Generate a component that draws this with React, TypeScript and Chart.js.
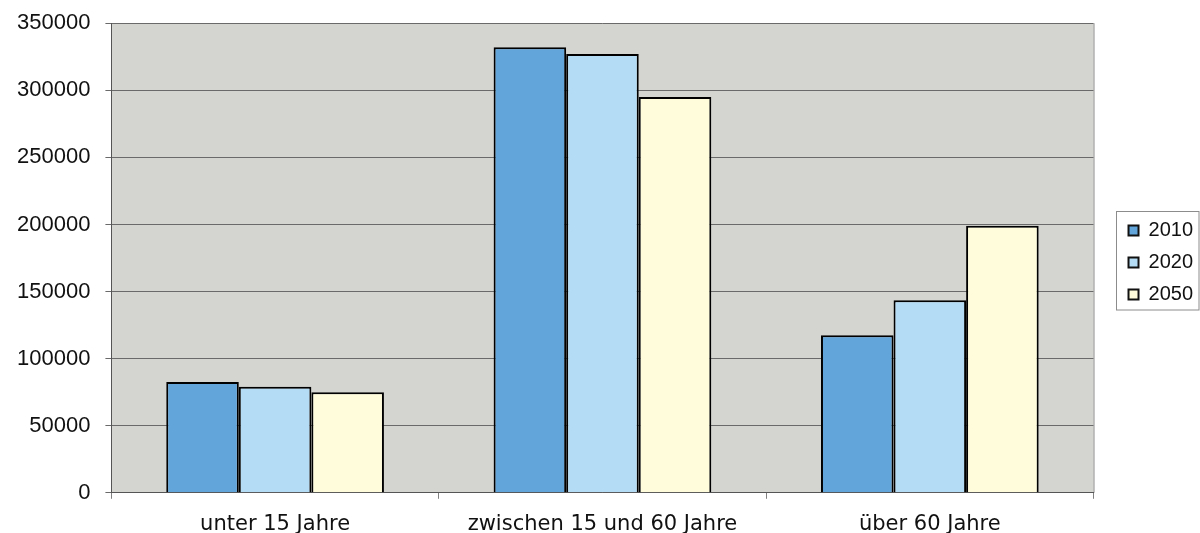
import React, { useEffect, useRef } from "react";
import { Chart, registerables } from "chart.js";

Chart.register(...registerables);

const categories = ["unter 15 Jahre", "zwischen 15 und 60 Jahre", "über 60 Jahre"];
const seriesNames = ["2010", "2020", "2050"];
const values2010 = [82500, 332000, 117500];
const values2020 = [79000, 327000, 143500];
const values2050 = [75000, 295000, 199000];
const seriesColors = ["#62a5da", "#b5dcf5", "#fffcdb"];
const yTicks = [0, 50000, 100000, 150000, 200000, 250000, 300000, 350000];

const LEGEND_SHIFT_X = 23;
const LEGEND_SHIFT_Y = -17;

const plotDeco = {
  id: "plotDeco",
  afterLayout(chart: any) {
    const lg = chart.legend;
    if (lg) {
      lg.left += LEGEND_SHIFT_X;
      lg.right += LEGEND_SHIFT_X;
      lg.top += LEGEND_SHIFT_Y;
      lg.bottom += LEGEND_SHIFT_Y;
    }
  },
  beforeDraw(chart: any) {
    const { ctx, chartArea } = chart;
    ctx.save();
    ctx.fillStyle = "#d4d4d1";
    ctx.fillRect(chartArea.left, chartArea.top, chartArea.right - chartArea.left, chartArea.bottom - chartArea.top);
    ctx.strokeStyle = "#8a8a8a";
    ctx.lineWidth = 1;
    ctx.beginPath();
    ctx.moveTo(chartArea.right + 0.5, chartArea.top);
    ctx.lineTo(chartArea.right + 0.5, chartArea.bottom);
    ctx.stroke();
    ctx.restore();
  },
  afterDraw(chart: any) {
    const lg = chart.legend;
    if (!lg) return;
    const { ctx } = chart;
    const items = lg.legendHitBoxes;
    if (!items || !items.length) return;
    const first = items[0];
    const last = items[items.length - 1];
    ctx.save();
    ctx.strokeStyle = "#8c8c8c";
    ctx.lineWidth = 1;
    const x = Math.round(first.left - 13) + 0.5;
    const y = Math.round(first.top - 10) + 0.5;
    ctx.strokeRect(x, y, 1199 - x, Math.round(last.top + last.height + 5) - y);
    ctx.restore();
  },
};

export default function App() {
  const ref = useRef<HTMLCanvasElement>(null);
  useEffect(() => {
    if (!ref.current) return;
    const data = [values2010, values2020, values2050];
    const chart = new Chart(ref.current, {
      type: "bar",
      data: {
        labels: categories,
        datasets: seriesNames.map((n, i) => ({
          label: n,
          data: data[i],
          backgroundColor: seriesColors[i],
          borderColor: "#000000",
          borderWidth: 2,
          borderSkipped: "bottom" as any,
          barPercentage: 1,
          categoryPercentage: 0.665,
        })),
      },
      plugins: [plotDeco],
      options: {
        animation: false,
        responsive: true,
        maintainAspectRatio: false,
        layout: { padding: { top: 14, right: 20, bottom: 0, left: 2 } },
        plugins: {
          tooltip: { enabled: false },
          legend: {
            position: "right",
            labels: {
              boxWidth: 10,
              boxHeight: 10,
              padding: 12,
              color: "#111",
              font: { family: "Liberation Sans", size: 20 },
              generateLabels(chart: any) {
                return chart.data.datasets.map((d: any, i: number) => ({
                  text: d.label,
                  fillStyle: d.backgroundColor,
                  strokeStyle: "#111",
                  lineWidth: 2,
                  datasetIndex: i,
                  fontColor: "#111",
                }));
              },
            },
          },
        },
        scales: {
          x: {
            offset: true,
            grid: { display: true, drawOnChartArea: false, drawTicks: true, tickLength: 6, color: "#808080", offset: true },
            border: { color: "#555", width: 1 },
            ticks: { color: "#111", font: { family: "DejaVu Sans", size: 21 }, padding: 13 },
          },
          y: {
            min: 0,
            max: 350000,
            afterBuildTicks(axis: any) {
              axis.ticks = yTicks.map((v) => ({ value: v }));
            },
            ticks: {
              color: "#111",
              font: { family: "Liberation Sans", size: 22 },
              padding: 15,
              callback: (v: any) => String(v),
            },
            grid: { color: "#6a6a6a", lineWidth: 1, tickLength: 6, drawTicks: true },
            border: { color: "#555", width: 1 },
          },
        },
      },
    });
    return () => chart.destroy();
  }, []);
  return (
    <div style={{ position: "fixed", left: 0, top: -5, width: 1200, height: 555, background: "#fff" }}>
      <canvas ref={ref} />
    </div>
  );
}
